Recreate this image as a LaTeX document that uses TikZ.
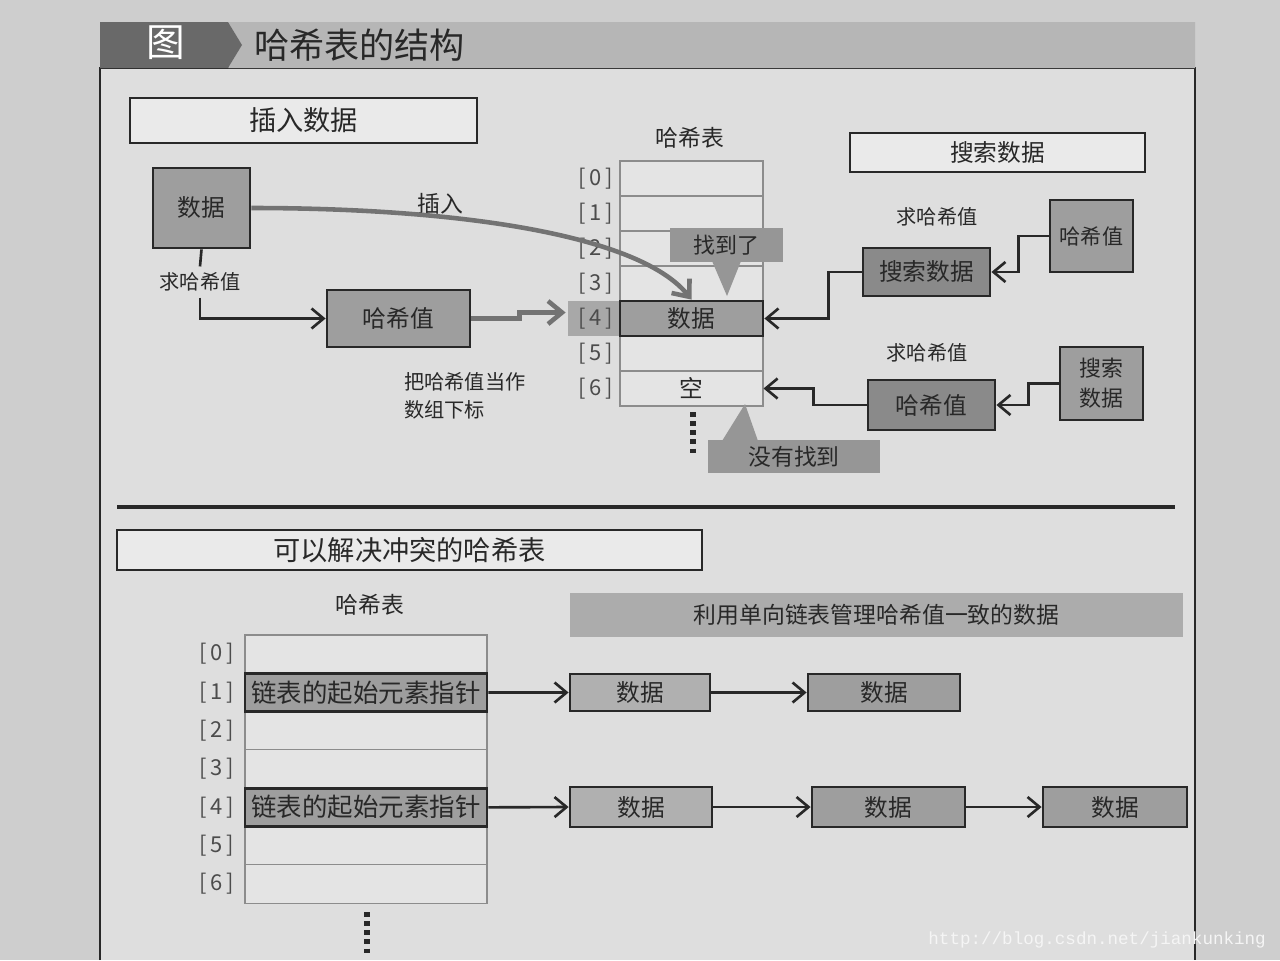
\documentclass[tikz,border=0pt]{standalone}
\usepackage{fontspec}
\setmainfont{Noto Sans CJK SC}
\newfontfamily\wmfont{Liberation Mono}
\usetikzlibrary{arrows.meta,calc}
\definecolor{pagebg}{RGB}{206,206,206}
\definecolor{framebg}{RGB}{222,222,222}
\definecolor{whitebox}{RGB}{234,234,234}
\definecolor{cellbg}{RGB}{228,228,228}
\definecolor{boxgray}{RGB}{158,158,158}
\definecolor{boxdark}{RGB}{138,138,138}
\definecolor{boxlight}{RGB}{176,176,176}
\definecolor{callgray}{RGB}{150,150,150}
\definecolor{bannergray}{RGB}{172,172,172}
\definecolor{hdark}{RGB}{105,105,105}
\definecolor{hbar}{RGB}{182,182,182}
\definecolor{idxbg}{RGB}{168,168,168}
\definecolor{inkc}{RGB}{40,40,40}
\newcommand\fsz[1]{\fontsize{#1}{#1}\selectfont}
\newcommand\mybox[7]{\node[#6, minimum width={((#4)-(#2))*0.02cm}, minimum height={((#5)-(#3))*0.02cm}, inner sep=0pt] (#1) at ({((#2)+(#4))/2},{((#3)+(#5))/2}) {#7};}
\tikzset{
  box/.style={draw=inkc, line width=1.6pt, fill=boxgray, text=inkc, font=\fsz{13.5}},
  boxd/.style={box, fill=boxdark},
  boxl/.style={box, fill=boxlight},
  wbox/.style={draw=inkc, line width=1pt, fill=whitebox, text=inkc},
  cell/.style={draw=black!45, line width=0.6pt, fill=cellbg},
  idx/.style={text=black!70, font=\fsz{12.5}},
  small/.style={text=inkc, font=\fsz{11.5}},
  arr/.style={draw=inkc, line width=1.5pt, -{Straight Barb[length=2.4mm,width=4mm]}},
  garr/.style={draw=black!55, line width=2.6pt, -{Straight Barb[length=2.8mm,width=4.6mm]}},
  dots/.style={draw=inkc, line width=3pt, dash pattern=on 2.6pt off 2.6pt}
}
\begin{document}
\begin{tikzpicture}[x=0.02cm,y=-0.02cm]
\useasboundingbox[fill=pagebg] (0,0) rectangle (1280,960);
% frame
\fill[framebg] (100,68) rectangle (1195,960);
\draw[inkc, line width=1pt] (100,960) -- (100,68) -- (1195,68) -- (1195,960);
% header
\fill[hbar] (228,22) -- (1195,22) -- (1195,68) -- (228,68) -- (242,45) -- cycle;
\fill[hdark] (100,22) -- (228,22) -- (242,45) -- (228,68) -- (100,68) -- cycle;
\node[text=white, font=\fsz{22}] (fig) at (166,43) {图};
\node[anchor=west, text=inkc, font=\fsz{20}] (title) at (248,45) {哈希表的结构};

% ===== top section =====
\mybox{ins}{130}{98}{477}{143}{wbox,font=\fsz{15.5}}{插入数据}
\mybox{srch}{850}{133}{1145}{172}{wbox,font=\fsz{13.5}}{搜索数据}
\node[text=inkc, font=\fsz{13}] (ht1) at (690,138) {哈希表};
% hash table
\foreach \i in {0,...,6} {
  \mybox{t\i}{620}{161+35*\i}{763}{196+35*\i}{cell}{}
}
\mybox{idxh}{568}{301}{620}{336}{fill=idxbg}{}
\foreach \i in {0,...,6} {
  \node[idx] (l\i) at (596,178.5+35*\i) {[\,\i\,]};
}
\mybox{t4b}{620}{301}{763}{336}{box}{数据}
\node[text=inkc, font=\fsz{13.5}] (empty) at (t6) {空};
\draw[dots] (693,412) -- (693,456);
% insert side
\mybox{d}{153}{168}{250}{248}{box}{数据}
\mybox{hv}{327}{290}{470}{347}{box}{哈希值}
\node[small] (qh1) at (200,282) {求哈希值};
\draw[inkc, line width=1.5pt] (d.south) -- (qh1.north);
\draw[arr] (qh1.south) |- (hv.west);
\node[text=inkc, font=\fsz{13}] (insl) at (440,204) {插入};
\draw[garr] (d.east) .. controls (460,208) and (640,235) .. (t4b.north);
\draw[garr] (hv.east) -- ++(48,0) -- ++(0,-6) -- ($(idxh.west)+(-2,-6)$);
\node[anchor=north west, align=left, text=inkc, font=\fontsize{11.5}{16}\selectfont] (note) at (398,366) {把哈希值当作\\数组下标};
% callouts
\node[fill=callgray, minimum width=2.26cm, minimum height=0.68cm, inner sep=0pt, text=inkc, font=\fsz{12.5}] (found) at (726.5,245) {找到了};
\fill[callgray] (712,261) -- (741,261) -- (727,296) -- cycle;
\node[fill=callgray, minimum width=3.44cm, minimum height=0.66cm, inner sep=0pt, text=inkc, font=\fsz{13}] (nf) at (794,456.5) {没有找到};
\fill[callgray] (722,441) -- (758,441) -- (745,404) -- cycle;
% search side
\mybox{hv2}{1050}{200}{1133}{272}{box,font=\fsz{12}}{哈希值}
\node[small] (qh2) at (937,217) {求哈希值};
\mybox{sd}{863}{248}{990}{296}{boxd}{搜索数据}
\draw[arr] (hv2.west) -- ++(-30,0) |- (sd.east);
\draw[arr] (sd.west) -- ++(-33,0) |- (t4b.east);
\node[small] (qh3) at (927,353) {求哈希值};
\mybox{sd2}{1060}{347}{1143}{420}{box,align=center,font=\fontsize{12.5}{17}\selectfont}{搜索\\数据}
\mybox{hv3}{868}{380}{995}{430}{boxd}{哈希值}
\draw[arr] (sd2.west) -- ++(-30,0) |- (hv3.east);
\draw[arr] (hv3.west) -- ++(-53,0) |- (t6.east);

% separator
\draw[inkc, line width=1.8pt] (117,507) -- (1175,507);

% ===== bottom section =====
\mybox{cr}{117}{530}{702}{570}{wbox,font=\fsz{15.5}}{可以解决冲突的哈希表}
\node[text=inkc, font=\fsz{13}] (ht2) at (370,605) {哈希表};
\foreach \i in {0,...,6} {
  \mybox{u\i}{245}{635+38.3*\i}{487}{673.3+38.3*\i}{cell}{}
  \node[idx] (ul\i) at (217,654.15+38.3*\i) {[\,\i\,]};
}
\mybox{p1}{245}{673.3}{487}{711.6}{box,font=\fsz{14.5}}{链表的起始元素指针}
\mybox{p4}{245}{788.2}{487}{826.5}{box,font=\fsz{14.5}}{链表的起始元素指针}
\draw[dots] (367,912) -- (367,957);
\mybox{ban}{570}{593}{1183}{637}{fill=bannergray,text=inkc,font=\fsz{13}}{利用单向链表管理哈希值一致的数据}
\mybox{a1}{570}{674}{710}{711}{boxl}{数据}
\mybox{b1}{808}{674}{960}{711}{box}{数据}
\mybox{a2}{570}{787}{712}{827}{boxl}{数据}
\mybox{b2}{812}{787}{965}{827}{box}{数据}
\mybox{c2}{1043}{787}{1187}{827}{box}{数据}
\draw[arr] (p1.east) -- (a1.west);
\draw[arr] (a1.east) -- (b1.west);
\draw[arr] (p4.east) -- (a2.west);
\draw[arr] (a2.east) -- (b2.west);
\draw[arr] (b2.east) -- (c2.west);

% watermark
\node[anchor=east, text=white!92!gray, font=\wmfont\fsz{10}] (wm) at (1272,940) {http://blog.csdn.net/jiankunking};
\end{tikzpicture}
\end{document}
